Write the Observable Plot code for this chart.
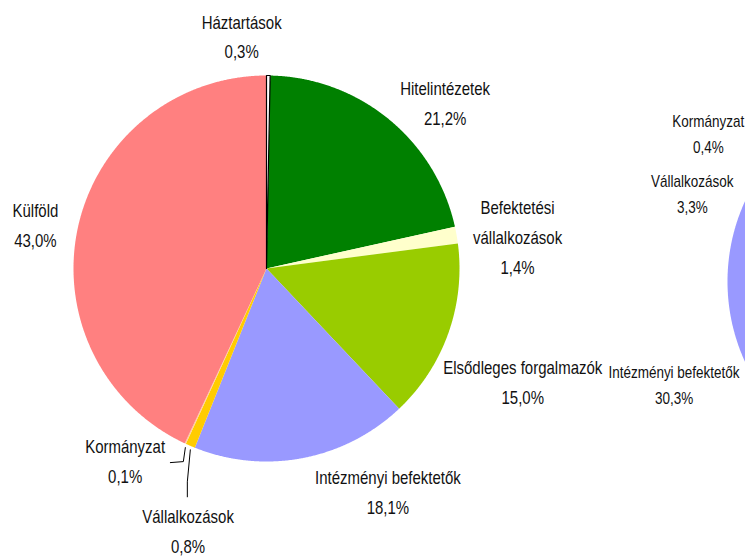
<!DOCTYPE html>
<html><head><meta charset="utf-8">
<script src="https://cdn.jsdelivr.net/npm/d3@7"></script>
<script src="https://cdn.jsdelivr.net/npm/@observablehq/plot@0.6"></script>
<style>
html,body{margin:0;padding:0;background:#fff;overflow:hidden}
</style></head><body><div id="chart"></div>
<script>
// ---- data ----
const categories = ["Háztartások","Hitelintézetek","Befektetési\nvállalkozások","Elsődleges forgalmazók","Intézményi befektetők","Vállalkozások","Kormányzat","Külföld"];
const shares = [0.3, 21.2, 1.4, 15.0, 18.1, 0.8, 0.1, 43.0];
const colors = ["#ffffff","#008000","#ffffcc","#99cc00","#9999ff","#ffcc00","#ffcc99","#ff8080"];

const categories2 = ["Intézményi befektetők","Vállalkozások","Kormányzat"];
const shares2 = [30.3, 3.3, 0.4];
const colors2 = ["#9999ff","#ffcc00","#ffcc99"];

// ---- layout (pixels) ----
const W = 745, H = 556, R = 193;
const C1 = [266, 268], C2 = [920, 281];
const start2 = 188 * Math.PI / 180;
const FONT = "'Liberation Sans',Arial,sans-serif";
const VSTRETCH = 1.18;
// label offsets from the point at 1.2R on the slice mid-angle
const labelOffsets1 = [[-27,-3],[32,11],[23,6],[38,33],[78,-7],[13,47],[-44,-20],[-5,4]];
const labelOffsets2 = [[-41,-6],[-34,36],[-34,-2]];
// leader elbows (offsets from slice edge point) for left pie
const leaders1 = {5: [[0,4],[-3,36],[-3,51]], 6: [[0,4],[-2,18],[-15,19]]};

const fmt = v => d3.format(".1f")(v).replace(".", ",") + "%";
const pt = (c, r, a) => [c[0] + r * Math.sin(a), c[1] - r * Math.cos(a)];

function slices(cats, vals, cols, center, a0, a1, key) {
  const pie = d3.pie().sort(null).value(d => d.v).startAngle(a0).endAngle(a1);
  const arcs = pie(cats.map((c, i) => ({c, v: vals[i], col: cols[i], i})));
  const pts = [];
  arcs.forEach(a => {
    const id = key + a.data.i;
    const push = p => pts.push({x: p[0], y: p[1], id, color: a.data.col, i: a.data.i});
    push(center);
    const n = Math.max(2, Math.ceil((a.endAngle - a.startAngle) / (Math.PI / 720)));
    for (let k = 0; k <= n; k++) push(pt(center, R, a.startAngle + (a.endAngle - a.startAngle) * k / n));
    push(center);
  });
  return {arcs, pts};
}

const p1 = slices(categories, shares, colors, C1, 0, 2 * Math.PI, "a");
const tot2 = d3.sum(shares2);
const p2 = slices(categories2, shares2, colors2, C2, start2, start2 + tot2 / 100 * 2 * Math.PI, "b");

function labels(arcs, center, offs) {
  return arcs.map((a, j) => {
    const m = (a.startAngle + a.endAngle) / 2;
    const p = pt(center, R * 1.2, m);
    return {x: p[0] + offs[j][0], y: p[1] + offs[j][1], text: a.data.c + "\n" + fmt(a.data.v)};
  });
}
const lab1 = labels(p1.arcs, C1, labelOffsets1);
const lab2 = labels(p2.arcs, C2, labelOffsets2);

const leadPts = [];
Object.entries(leaders1).forEach(([idx, elbows]) => {
  const a = p1.arcs[+idx];
  const e = pt(C1, R, (a.startAngle + a.endAngle) / 2);
  elbows.forEach(o => leadPts.push({x: e[0] + o[0], y: e[1] + o[1], id: idx}));
});

const chart = Plot.plot({
  width: W, height: H, margin: 0,
  x: {domain: [0, W], range: [0, W], axis: null},
  y: {domain: [0, H], range: [0, H], axis: null},
  color: {type: "identity"},
  style: {background: "white", overflow: "hidden"},
  marks: [
    Plot.line(p1.pts.concat(p2.pts), {x: "x", y: "y", z: "id", fill: "color", stroke: "none", curve: "linear"}),
    Plot.line(p1.pts.filter(d => d.i === 0), {x: "x", y: "y", z: "id", fill: "white", stroke: "black", strokeWidth: 1.2, curve: "linear"}),
    Plot.line(leadPts, {x: "x", y: "y", z: "id", stroke: "black", strokeWidth: 1, curve: "linear"}),
    Plot.text(lab1, {x: "x", y: "y", text: "text", textAnchor: "middle", lineAnchor: "middle", lineHeight: 1.69, fontSize: 15, fontFamily: FONT, fill: "#111"}),
    Plot.text(lab2, {x: "x", y: "y", text: "text", textAnchor: "middle", lineAnchor: "middle", lineHeight: 1.65, fontSize: 13.5, fontFamily: FONT, fill: "#111"})
  ]
});
// tall, narrow glyphs as in the reference: stretch text vertically about its anchor
d3.select(chart).selectAll("text").each(function() {
  const t = this.getAttribute("transform") || "";
  const x = +(this.getAttribute("x") || 0), y = +(this.getAttribute("y") || 0);
  this.setAttribute("transform", `${t} translate(${x},${y}) scale(1,${VSTRETCH}) translate(${-x},${-y})`);
});
document.getElementById("chart").appendChild(chart);
</script></body></html>
